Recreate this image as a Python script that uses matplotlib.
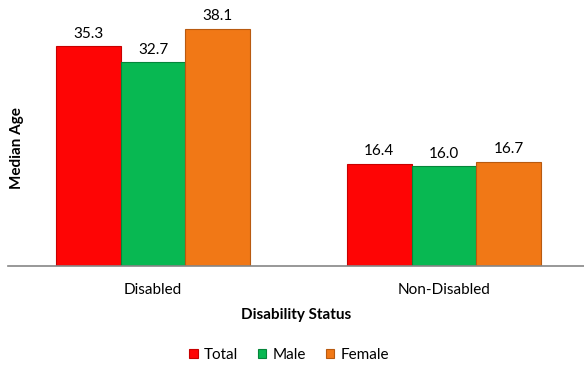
import matplotlib
matplotlib.use("Agg")
import matplotlib.pyplot as plt
import numpy as np

categories = ["Disabled", "Non-Disabled"]
series = ["Total", "Male", "Female"]
total = [35.3, 16.4]
male = [32.7, 16.0]
female = [38.1, 16.7]
colors = ["#FE0505", "#08B852", "#F17816"]
edges = ["#C80000", "#05853A", "#B85A10"]

plt.rcParams['font.family'] = ['Lato', 'DejaVu Sans']

fig = plt.figure(figsize=(5.84, 3.65), dpi=100)
ax = fig.add_axes([7.5/584, (365-266)/365, 1 - 7.5/584, (266-17)/365])

x = np.arange(len(categories))
w = 0.223
for i, (vals, c, ec, name) in enumerate(zip([total, male, female], colors, edges, series)):
    bars = ax.bar(x + (i-1)*w, vals, w, color=c, edgecolor=ec, linewidth=0.8, label=name, zorder=2)
    for b, v in zip(bars, vals):
        ax.annotate(f"{v:.1f}", (b.get_x()+b.get_width()/2, v), xytext=(0, 4),
                    textcoords="offset points", ha="center", va="bottom", fontsize=11)

ax.set_xlim(-0.5, (584-153)/291)
ax.set_ylim(0, 40)
ax.set_yticks([])
for s in ["top", "right", "left"]:
    ax.spines[s].set_visible(False)
ax.spines["bottom"].set_color("#868686")
ax.spines["bottom"].set_linewidth(1.2)
ax.set_xticks(x)
ax.set_xticklabels(categories, fontsize=11)
ax.tick_params(axis="x", length=0, pad=12)
ax.set_xlabel("Disability Status", fontsize=11, fontweight="bold", labelpad=8)
fig.text(17/584, 1 - 148/365, "Median Age", rotation=90, ha="center", va="center",
         fontsize=11, fontweight="bold")

fig.legend(loc="center", bbox_to_anchor=(289/584, 1 - 355/365), ncol=3, frameon=False,
           fontsize=11, handlelength=0.55, handleheight=0.55, handletextpad=0.4, columnspacing=1.3)

fig.savefig("out.png", dpi=100)
